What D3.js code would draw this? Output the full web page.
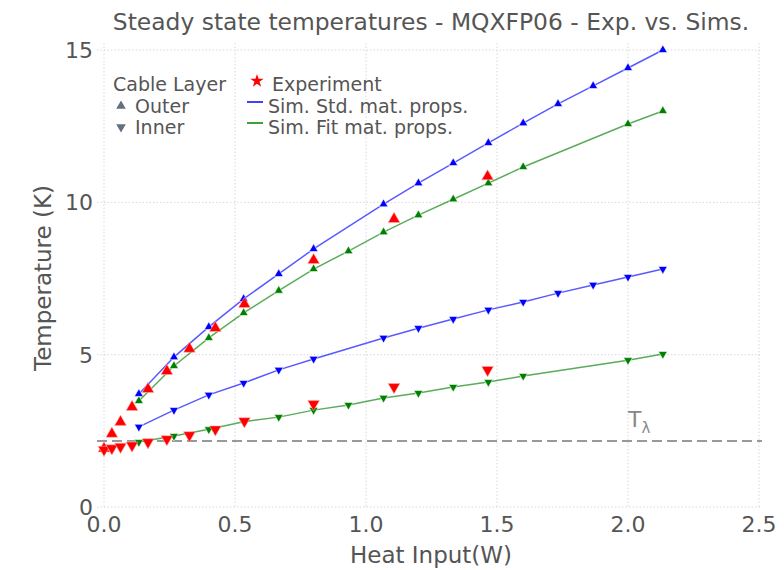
<!DOCTYPE html>
<html>
<head>
<meta charset="utf-8">
<script src="https://cdn.jsdelivr.net/npm/d3@7"></script>
<style>
  body { margin: 0; background: #fff; }
  text { font-family: 'DejaVu Sans', sans-serif; fill: #555; }
</style>
</head>
<body>
<div id="chart"></div>
<script>
// simulation heat inputs (W)
var stdX = [0.133, 0.267, 0.4, 0.533, 0.667, 0.8, 1.067, 1.2, 1.333, 1.467, 1.6, 1.733, 1.867, 2.0, 2.133];
var stdOuter = [3.71, 4.92, 5.91, 6.83, 7.65, 8.47, 9.94, 10.63, 11.29, 11.95, 12.6, 13.23, 13.82, 14.41, 15.0];
var stdInner = [2.63, 3.18, 3.68, 4.07, 4.5, 4.86, 5.55, 5.87, 6.17, 6.47, 6.73, 7.02, 7.29, 7.55, 7.81];

var fitX = [0.133, 0.267, 0.4, 0.533, 0.667, 0.8, 0.933, 1.067, 1.2, 1.333, 1.467, 1.6, 2.0, 2.133];
var fitOuter = [3.48, 4.63, 5.55, 6.37, 7.1, 7.81, 8.4, 9.02, 9.58, 10.1, 10.63, 11.16, 12.57, 13.0];
var fitInner = [2.13, 2.33, 2.55, 2.8, 2.95, 3.18, 3.35, 3.58, 3.74, 3.94, 4.1, 4.3, 4.82, 5.02];

// experiment
var expX = [0, 0.03, 0.063, 0.107, 0.168, 0.24, 0.326, 0.425, 0.536, 0.8, 1.107, 1.464];
var expOuter = [1.92, 2.4, 2.79, 3.28, 3.87, 4.46, 5.19, 5.87, 6.66, 8.1, 9.45, 10.85];
var expInner = [1.88, 1.93, 1.98, 2.02, 2.13, 2.23, 2.36, 2.55, 2.82, 3.38, 3.94, 4.5];

var lambdaT = 2.17;
var xTicks = [0, 0.5, 1.0, 1.5, 2.0, 2.5];
var yTicks = [0, 5, 10, 15];

var W = 784, H = 570;
var plot = { left: 97, right: 762, top: 43, bottom: 507 };

var svg = d3.select('#chart').append('svg')
  .attr('width', W)
  .attr('height', H);

var x = d3.scaleLinear().domain([0, 2.5]).range([104, 759]);
var y = d3.scaleLinear().domain([0, 15]).range([507, 50]);

// grid
svg.append('g').selectAll('line')
  .data(xTicks)
  .enter().append('line')
  .attr('x1', (d) => x(d)).attr('x2', (d) => x(d))
  .attr('y1', plot.top).attr('y2', plot.bottom)
  .attr('stroke', '#d8d8e0')
  .attr('stroke-width', 1)
  .attr('stroke-dasharray', '1.5,2');

svg.append('g').selectAll('line')
  .data(yTicks)
  .enter().append('line')
  .attr('x1', plot.left).attr('x2', plot.right)
  .attr('y1', (d) => y(d)).attr('y2', (d) => y(d))
  .attr('stroke', '#d8d8e0')
  .attr('stroke-width', 1)
  .attr('stroke-dasharray', '1.5,2');

// tick labels
svg.append('g').selectAll('text')
  .data(xTicks)
  .enter().append('text')
  .attr('x', (d) => x(d))
  .attr('y', 532)
  .attr('text-anchor', 'middle')
  .style('font-size', '22px')
  .text((d) => d3.format('.1f')(d));

svg.append('g').selectAll('text')
  .data(yTicks)
  .enter().append('text')
  .attr('x', 93)
  .attr('y', (d) => y(d) + 8)
  .attr('text-anchor', 'end')
  .style('font-size', '22px')
  .text((d) => d);

// T lambda line
svg.append('line')
  .attr('x1', plot.left).attr('x2', plot.right)
  .attr('y1', y(lambdaT)).attr('y2', y(lambdaT))
  .attr('stroke', '#999')
  .attr('stroke-width', 2)
  .attr('stroke-dasharray', '10,5');

var tl = svg.append('text')
  .attr('x', 628)
  .attr('y', y(lambdaT) - 14)
  .style('font-size', '22px')
  .style('fill', '#888');
tl.append('tspan').text('T');
tl.append('tspan').attr('dy', 6).style('font-size', '15px').text('λ');

var line = d3.line()
  .x((d) => x(d[0]))
  .y((d) => y(d[1]));

var up = d3.symbol().type(d3.symbolTriangle);
var zip = (a, b) => a.map((d, i) => [d, b[i]]);

function drawSeries(xs, ys, color, size, down, withLine, stroke) {
  var pts = zip(xs, ys);
  if (withLine) {
    svg.append('path')
      .datum(pts)
      .attr('d', line)
      .attr('fill', 'none')
      .attr('stroke', color)
      .attr('stroke-opacity', 0.65)
      .attr('stroke-width', 1.5);
  }
  svg.append('g').selectAll('path')
    .data(pts)
    .enter().append('path')
    .attr('d', up.size(size)())
    .attr('transform', (d) => 'translate(' + x(d[0]) + ',' + y(d[1]) + ')' + (down ? ' rotate(180)' : ''))
    .attr('fill', color)
    .attr('stroke', stroke)
    .attr('stroke-opacity', 0.7)
    .attr('stroke-width', 0.8);
}

drawSeries(stdX, stdOuter, '#0000ff', 34, false, true, '#fff');
drawSeries(stdX, stdInner, '#0000ff', 34, true, true, '#fff');
drawSeries(fitX, fitOuter, '#008000', 34, false, true, '#fff');
drawSeries(fitX, fitInner, '#008000', 34, true, true, '#fff');
drawSeries(expX, expOuter, '#ff0000', 60, false, false, '#ffb0b0');
drawSeries(expX, expInner, '#ff0000', 60, true, false, '#ffb0b0');

// title and axis labels
svg.append('text')
  .attr('x', 431)
  .attr('y', 30)
  .attr('text-anchor', 'middle')
  .style('font-size', '23.4px')
  .text('Steady state temperatures - MQXFP06 - Exp. vs. Sims.');

svg.append('text')
  .attr('x', 431)
  .attr('y', 563)
  .attr('text-anchor', 'middle')
  .style('font-size', '23px')
  .text('Heat Input(W)');

svg.append('text')
  .attr('transform', 'translate(51,278) rotate(-90)')
  .attr('text-anchor', 'middle')
  .style('font-size', '23px')
  .text('Temperature (K)');

// legends
var leg = svg.append('g').style('font-size', '19px');
leg.append('text').attr('x', 113).attr('y', 91).text('Cable Layer');
leg.append('path')
  .attr('d', up.size(40)())
  .attr('transform', 'translate(121,106)')
  .attr('fill', '#627080');
leg.append('text').attr('x', 135).attr('y', 113).text('Outer');
leg.append('path')
  .attr('d', up.size(40)())
  .attr('transform', 'translate(121,127) rotate(180)')
  .attr('fill', '#627080');
leg.append('text').attr('x', 135).attr('y', 134).text('Inner');

leg.append('path')
  .attr('d', d3.symbol().type(d3.symbolStar).size(55)())
  .attr('transform', 'translate(257,81)')
  .attr('fill', '#ff0000');
leg.append('text').attr('x', 272).attr('y', 91).text('Experiment');
leg.append('line')
  .attr('x1', 247).attr('x2', 263).attr('y1', 102).attr('y2', 102)
  .attr('stroke', '#0000ff').attr('stroke-width', 1.5);
leg.append('text').attr('x', 268).attr('y', 113).text('Sim. Std. mat. props.');
leg.append('line')
  .attr('x1', 247).attr('x2', 263).attr('y1', 123).attr('y2', 123)
  .attr('stroke', '#008000').attr('stroke-width', 1.5);
leg.append('text').attr('x', 268).attr('y', 134).text('Sim. Fit mat. props.');
</script>
</body>
</html>
